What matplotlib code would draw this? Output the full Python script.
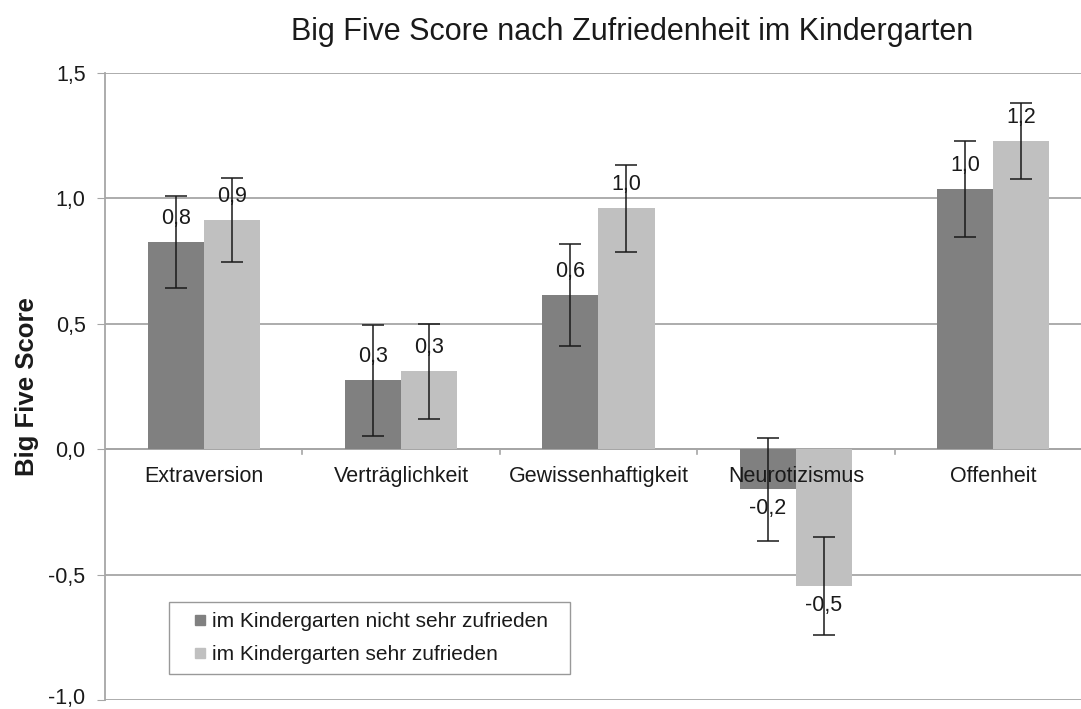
import matplotlib
matplotlib.use('Agg')
import matplotlib.pyplot as plt
import matplotlib.transforms as mtransforms
import numpy as np
from matplotlib.ticker import FuncFormatter
from matplotlib.lines import Line2D

plt.rcParams['font.family'] = ['Liberation Sans', 'DejaVu Sans']

# data
categories = ['Extraversion', 'Verträglichkeit', 'Gewissenhaftigkeit', 'Neurotizismus', 'Offenheit']
series_names = ['im Kindergarten nicht sehr zufrieden', 'im Kindergarten sehr zufrieden']
nicht_zufrieden = [0.826, 0.275, 0.614, -0.160, 1.037]
sehr_zufrieden = [0.913, 0.311, 0.961, -0.546, 1.229]
err_nicht = [0.185, 0.222, 0.204, 0.205, 0.190]
err_sehr = [0.168, 0.190, 0.174, 0.194, 0.152]
yticks = [-1.0, -0.5, 0.0, 0.5, 1.0, 1.5]

colors = ['#808080', '#c0c0c0']
grid_color = '#a6a6a6'
text_color = '#1a1a1a'

fig = plt.figure(figsize=(10.81, 7.09), dpi=100)
# plot area runs a little past the right edge, as in the reference
ax = fig.add_axes([0.0971, 0.0127, 0.913, 0.8843])

x = np.arange(len(categories))
w = 0.284
values = [nicht_zufrieden, sehr_zufrieden]
errors = [err_nicht, err_sehr]

for i, (vals, errs) in enumerate(zip(values, errors)):
    pos = x + (i - 0.5) * w
    ax.bar(pos, vals, width=w, color=colors[i], zorder=2)
    ax.errorbar(pos, vals, yerr=errs, fmt='none', ecolor=text_color,
                elinewidth=1.1, capsize=8, capthick=1.1, zorder=4)
    for p, v in zip(pos, vals):
        txt = f'{v:.1f}'.replace('.', ',')
        off = 17 if v >= 0 else -14
        ax.annotate(txt, (p, v), xytext=(0, off), textcoords='offset points',
                    ha='center', va='center', fontsize=15.5, color=text_color, zorder=5)

ax.set_xlim(-0.5, len(categories) - 0.5)
ax.set_ylim(-1.0, 1.5)
ax.set_yticks(yticks)
ax.yaxis.set_major_formatter(FuncFormatter(lambda v, _: f'{v:.1f}'.replace('.', ',')))
ax.tick_params(axis='y', labelsize=15.5, length=6, color=grid_color, pad=8, labelcolor=text_color)
ax.yaxis.grid(True, color=grid_color, linewidth=1.3, zorder=0)
ax.set_axisbelow(True)

# lift the bottom tick label a touch so it is not clipped by the figure edge
lowest = ax.yaxis.get_major_ticks()[0].label1
lowest.set_transform(lowest.get_transform() +
                     mtransforms.ScaledTranslation(0, 3 / 72, fig.dpi_scale_trans))

# category labels sit under the zero line, drawn over the bars
ax.set_xticks([])
for xi, c in zip(x, categories):
    ax.annotate(c, (xi, 0), xytext=(0, -20), textcoords='offset points',
                ha='center', va='center', fontsize=15.5, color=text_color, zorder=3)
ax.axhline(0, color=grid_color, linewidth=1.3, zorder=1)
for b in np.arange(0.5, len(categories) - 0.5, 1):
    ax.plot([b, b], [0, -0.02], color=grid_color, linewidth=1.2, zorder=1)

for s in ['top', 'right', 'bottom']:
    ax.spines[s].set_visible(False)
ax.spines['left'].set_color(grid_color)
ax.spines['left'].set_linewidth(1.3)

ax.set_ylabel('Big Five Score', fontsize=18.5, fontweight='bold', labelpad=7, color=text_color)

fig.text(0.585, 0.955, 'Big Five Score nach Zufriedenheit im Kindergarten',
         ha='center', va='center', fontsize=22, color=text_color)

handles = [Line2D([], [], linestyle='none', marker='s', markersize=7,
                  markerfacecolor=c, markeredgecolor=c) for c in colors]
labels = [series_names[0] + '  ', series_names[1]]
leg = ax.legend(handles, labels, loc='lower left', bbox_to_anchor=(0.065, 0.041),
                borderaxespad=0, fontsize=15, frameon=True, fancybox=False,
                handlelength=2.0, handletextpad=-0.45, borderpad=0.5, labelspacing=0.65)
leg.get_frame().set_edgecolor('#808080')
leg.get_frame().set_linewidth(1.0)
for t in leg.get_texts():
    t.set_color(text_color)

fig.savefig('out.png', dpi=100)
